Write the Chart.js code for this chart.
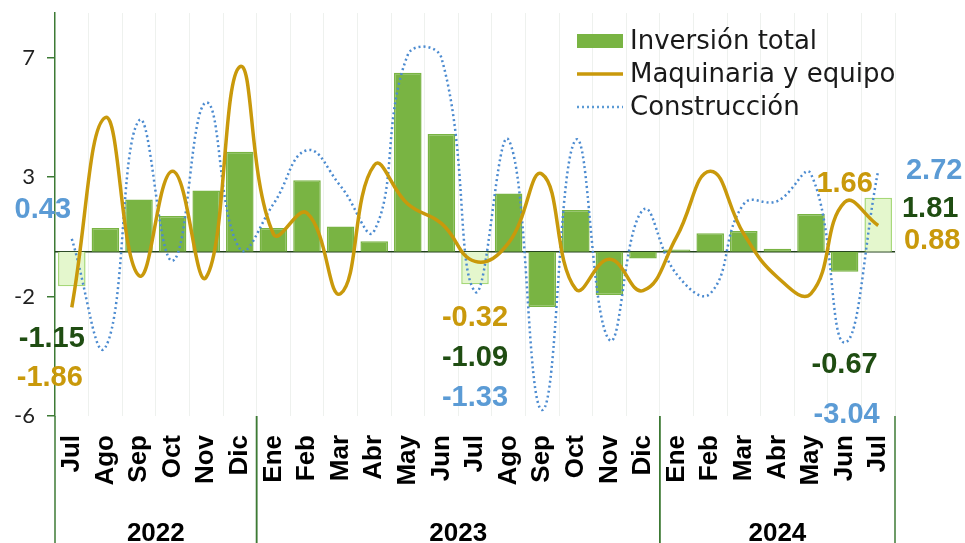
<!DOCTYPE html>
<html>
<head>
<meta charset="utf-8">
<script src="https://cdn.jsdelivr.net/npm/chart.js@4.4.1/dist/chart.umd.min.js"></script>
<style>
  html, body { margin: 0; padding: 0; background: #fff; }
</style>
</head>
<body>
<canvas id="chart" width="965" height="543"></canvas>
<script>
// categories
const months = ["Jul", "Ago", "Sep", "Oct", "Nov", "Dic",
                "Ene", "Feb", "Mar", "Abr", "May", "Jun", "Jul", "Ago", "Sep", "Oct", "Nov", "Dic",
                "Ene", "Feb", "Mar", "Abr", "May", "Jun", "Jul"];
const years = ["2022", "2023", "2024"];
const monthsPerYear = [6, 12, 7];

// series values
const inversionTotal = [-1.15, 0.8, 1.75, 1.2, 2.05, 3.35,
                        0.8, 2.4, 0.85, 0.35, 6.0, 3.95, -1.09, 1.95, -1.85, 1.4, -1.45, -0.22,
                        0.08, 0.62, 0.7, 0.1, 1.27, -0.67, 1.81];
const maquinaria = [-1.86, 4.5, -0.8, 2.7, -0.85, 6.2,
                    0.6, 1.3, -1.4, 2.9, 1.6, 0.95, -0.32, 0.3, 2.6, -1.25, -0.25, -1.3,
                    0.5, 2.7, 0.6, -0.85, -1.4, 1.66, 0.88];
const construccion = [0.43, -3.2, 4.4, -0.3, 5.0, 0.1,
                      1.6, 3.4, 2.2, 0.7, 6.6, 6.5, -1.33, 3.75, -5.3, 3.75, -2.95, 1.4,
                      -0.75, -1.4, 1.6, 1.7, 2.6, -3.04, 2.72];

// y axis ticks
const yTickValues = [-5.5, -1.5, 2.5, 6.5];
const yTickLabels = ["-6", "-2", "3", "7"];

const GREEN = "#79b443";
const LIGHT_GREEN = "#e4f7cd";
const GOLD = "#c9990b";
const BLUE = "#5b9bd5";
const DARK_GREEN = "#1f4d12";
const AXIS_GREEN = "#3d7a35";

const highlighted = [0, 12, 24];

// which points get a value label, and where (y in axis units, dx in px)
const valueLabels = [
    { series: "construccion", i: 0, at: 1.4, dx: -29 },
    { series: "inversion", i: 0, at: -2.93, dx: -20 },
    { series: "maquinaria", i: 0, at: -4.23, dx: -22 },
    { series: "maquinaria", i: 12, at: -2.23, dx: 0 },
    { series: "inversion", i: 12, at: -3.57, dx: 0 },
    { series: "construccion", i: 12, at: -4.9, dx: 0 },
    { series: "maquinaria", i: 23, at: 2.27, dx: 0 },
    { series: "inversion", i: 23, at: -3.8, dx: 0 },
    { series: "construccion", i: 23, at: -5.47, dx: 2 },
    { series: "construccion", i: 24, at: 2.7, dx: 56 },
    { series: "inversion", i: 24, at: 1.43, dx: 52 },
    { series: "maquinaria", i: 24, at: 0.37, dx: 54 }
];
const seriesInfo = {
    inversion: { values: inversionTotal, color: DARK_GREEN },
    maquinaria: { values: maquinaria, color: GOLD },
    construccion: { values: construccion, color: BLUE }
};

const legendItems = [
    { text: "Inversión total", kind: "box", color: GREEN },
    { text: "Maquinaria y equipo", kind: "line", color: GOLD },
    { text: "Construcción", kind: "dots", color: BLUE }
];

const extras = {
    id: "extras",
    beforeDatasetsDraw(chart) {
        const { ctx, chartArea, scales: { y } } = chart;
        const y0 = y.getPixelForValue(0);
        ctx.save();
        ctx.strokeStyle = "#22401c";
        ctx.lineWidth = 1.5;
        ctx.beginPath();
        ctx.moveTo(chartArea.left, y0);
        ctx.lineTo(chartArea.right, y0);
        ctx.stroke();
        ctx.restore();
    },
    afterDraw(chart) {
        const { ctx, chartArea, scales: { x, y } } = chart;
        const half = (x.getPixelForValue(1) - x.getPixelForValue(0)) / 2;
        ctx.save();

        // year dividers and labels
        ctx.strokeStyle = AXIS_GREEN;
        ctx.lineWidth = 1.5;
        ctx.fillStyle = "#000";
        ctx.font = "bold 26px 'Liberation Sans'";
        ctx.textAlign = "center";
        ctx.textBaseline = "alphabetic";
        let start = 0;
        years.forEach((yr, k) => {
            const end = start + monthsPerYear[k] - 1;
            const left = x.getPixelForValue(start) - half;
            const right = x.getPixelForValue(end) + half;
            [left, right].forEach(px => {
                ctx.beginPath();
                ctx.moveTo(px, chartArea.bottom);
                ctx.lineTo(px, chart.height);
                ctx.stroke();
            });
            ctx.fillText(yr, (left + right) / 2, chart.height - 2);
            start = end + 1;
        });

        // value labels
        ctx.font = "bold 29px 'Liberation Sans'";
        ctx.textBaseline = "middle";
        valueLabels.forEach(l => {
            const s = seriesInfo[l.series];
            ctx.fillStyle = s.color;
            ctx.fillText(s.values[l.i].toFixed(2), x.getPixelForValue(l.i) + l.dx, y.getPixelForValue(l.at));
        });

        // legend
        ctx.font = "26px 'DejaVu Sans'";
        ctx.textAlign = "left";
        legendItems.forEach((it, k) => {
            const cy = 41 + k * 33;
            const lx = 577, lw = 46;
            if (it.kind === "box") {
                ctx.fillStyle = it.color;
                ctx.fillRect(lx, cy - 7, lw, 14);
            } else {
                ctx.strokeStyle = it.color;
                ctx.lineWidth = it.kind === "line" ? 3.5 : 2.5;
                ctx.setLineDash(it.kind === "dots" ? [2, 3] : []);
                ctx.beginPath();
                ctx.moveTo(lx, cy);
                ctx.lineTo(lx + lw, cy);
                ctx.stroke();
                ctx.setLineDash([]);
            }
            ctx.fillStyle = "#1a1a1a";
            ctx.fillText(it.text, 630, cy + 1);
        });
        ctx.restore();
    }
};

new Chart(document.getElementById("chart"), {
    type: "bar",
    data: {
        labels: months,
        datasets: [
            {
                type: "line",
                label: "Maquinaria y equipo",
                data: maquinaria,
                borderColor: GOLD,
                borderWidth: 3.5,
                pointRadius: 0,
                tension: 0.45,
                fill: false,
                order: 0
            },
            {
                type: "line",
                label: "Construcción",
                data: construccion,
                borderColor: "#4c8bd0",
                borderWidth: 2.5,
                borderDash: [2, 3],
                pointRadius: 0,
                tension: 0.45,
                fill: false,
                order: 1
            },
            {
                label: "Inversión total",
                data: inversionTotal,
                backgroundColor: inversionTotal.map((v, i) => highlighted.includes(i) ? LIGHT_GREEN : GREEN),
                borderColor: inversionTotal.map((v, i) => highlighted.includes(i) ? "#a6d878" : GREEN),
                borderWidth: 1.5,
                barPercentage: 0.82,
                categoryPercentage: 1,
                order: 2
            }
        ]
    },
    options: {
        responsive: false,
        animation: false,
        devicePixelRatio: 1,
        layout: { padding: { top: 13, right: 70, left: 0, bottom: 0 } },
        plugins: {
            legend: { display: false },
            tooltip: { enabled: false }
        },
        scales: {
            x: {
                offset: true,
                border: { display: false },
                grid: { color: "#eef1ee", offset: true, drawTicks: false },
                ticks: {
                    autoSkip: false,
                    minRotation: 90,
                    maxRotation: 90,
                    padding: 19,
                    color: "#000",
                    font: { family: "'Liberation Sans'", size: 26, weight: "bold" }
                },
                afterFit: scale => { scale.height = 127; }
            },
            y: {
                min: -5.5,
                max: 8,
                border: { color: AXIS_GREEN, width: 1.5 },
                grid: { drawOnChartArea: false, color: AXIS_GREEN, tickLength: 8, lineWidth: 1.5 },
                afterBuildTicks: scale => { scale.ticks = yTickValues.map(v => ({ value: v })); },
                ticks: {
                    padding: 12,
                    color: "#222",
                    font: { family: "Lato", size: 22 },
                    callback: (v) => yTickLabels[yTickValues.indexOf(v)]
                },
                afterFit: scale => {
                    scale.width = 55;
                    scale.paddingTop = 0;
                    scale.paddingBottom = 0;
                }
            }
        }
    },
    plugins: [extras]
});
</script>
</body>
</html>
